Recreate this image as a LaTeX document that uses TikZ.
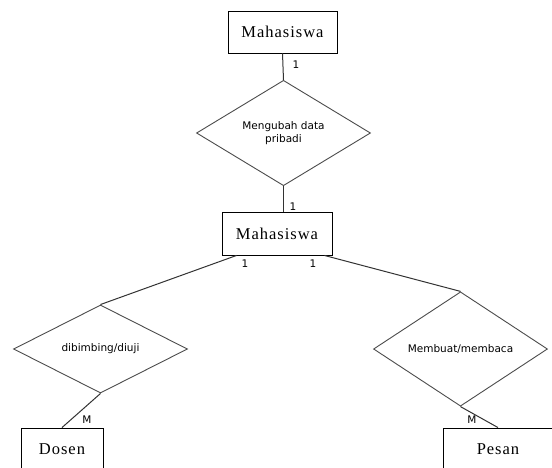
\documentclass[tikz,border=0pt]{standalone}
\usepackage{fontspec}
\setmainfont{Liberation Serif}
\newfontfamily\labelfont{DejaVu Sans}
\newfontfamily\entfont[LetterSpace=6]{Liberation Serif}
\usetikzlibrary{shapes.geometric,calc}

\begin{document}
\begin{tikzpicture}[x=1pt,y=-1pt,
  entity/.style={draw=black, line width=0.9pt, fill=white, minimum width=110pt,
    minimum height=43pt, inner sep=0pt, font=\entfont\fontsize{16.5}{18}\selectfont},
  relation/.style={diamond, draw=black!70, line width=0.9pt, fill=white,
    minimum width=174pt, minimum height=72pt, inner sep=0pt, align=center,
    font=\labelfont\fontsize{10.5}{13}\selectfont},
  link/.style={draw=black!80, line width=1pt},
  card/.style={font=\labelfont\fontsize{10.5}{12}\selectfont, inner sep=0pt}]
\clip (0,0) rectangle (552,467);
\fill[white] (0,0) rectangle (552,467);

% entities
\node[entity, minimum width=109pt, minimum height=42pt] (mhsA) at (282.5,32) {Mahasiswa};
\node[entity] (mhsB) at (277,233.5) {Mahasiswa};
\node[entity, minimum width=82pt] (dosen) at (62,449.5) {Dosen};
\node[entity] (pesan) at (498,449.5) {Pesan};

% relationships
\node[relation] (ubah) at (283.5,133) {Mengubah data\\pribadi};
\node[relation] (bimbing) at (100.5,349) {dibimbing/diuji};
\node[relation] (buat) at (460.5,349) {Membuat/membaca};

% connectors
\draw[link] (mhsA.south) -- (ubah.north);
\draw[link] (ubah.south) -- (ubah.south |- mhsB.north);
\draw[link] ($(mhsB.south west)+(15,0)$) -- (bimbing.north);
\draw[link] ($(mhsB.south east)+(-8,0)$) -- (buat.north);
\draw[link] (bimbing.south) -- (dosen.north);
\draw[link] (buat.south) -- (pesan.north);

% cardinalities
\node[card] (c1) at (296,65) {1};
\node[card] (c2) at (293,207) {1};
\node[card] (c3) at (245,264) {1};
\node[card] (c4) at (313,264) {1};
\node[card] (c5) at (87,420) {M};
\node[card] (c6) at (472,420) {M};
\end{tikzpicture}
\end{document}
